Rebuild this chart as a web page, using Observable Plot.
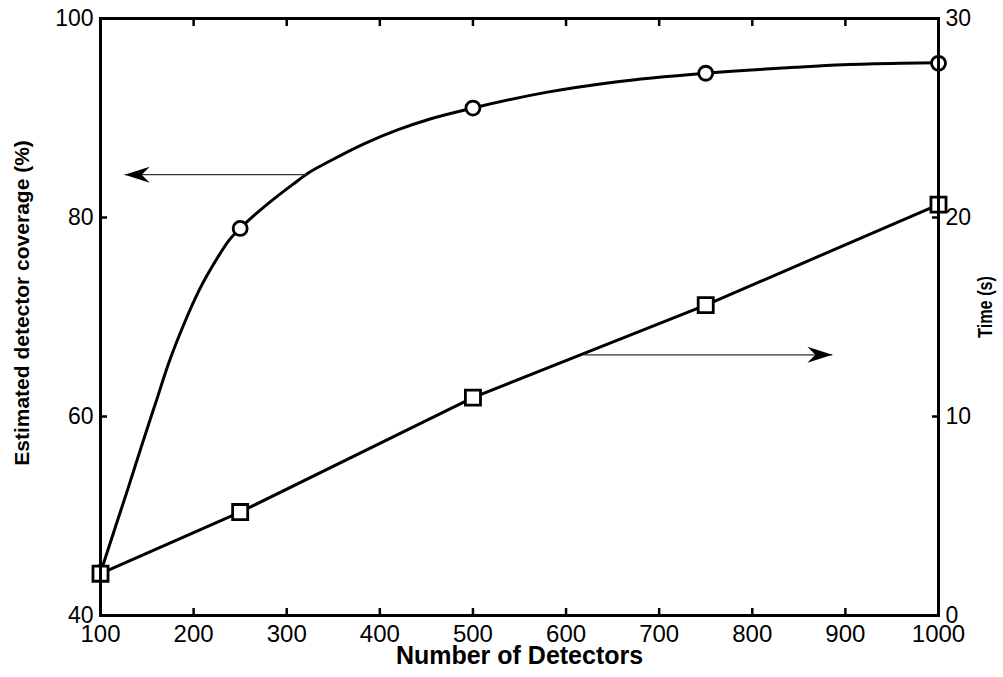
<!DOCTYPE html>
<html><head><meta charset="utf-8">
<script src="https://cdn.jsdelivr.net/npm/d3@7"></script>
<script src="https://cdn.jsdelivr.net/npm/@observablehq/plot@0.6"></script>
<style>html,body{margin:0;padding:0;background:#fff;} #chart{width:1003px;height:677px;}</style>
</head><body><div id="chart"></div>
<script>
// Marker positions (number of detectors)
const detectors = [100, 250, 500, 750, 1000];
// Estimated detector coverage (%) at the circle markers
const coverageMarkers = [44.3, 78.9, 91.0, 94.5, 95.5];
// Time (s) at the square markers
const timeMarkers = [2.1, 5.2, 10.95, 15.6, 20.65];
// Coverage curve
const curveDetectors = [100, 116, 130, 145, 159, 173, 191, 206, 224, 238, 250, 284, 309, 322, 347, 383, 419, 454, 500, 580, 651, 750, 847, 898, 959, 1000];
const curveCoverage  = [44.3, 48.9, 52.9, 57.3, 61.3, 65.3, 69.6, 72.7, 75.7, 77.7, 78.9, 81.7, 83.5, 84.4, 85.7, 87.4, 88.8, 89.9, 91.0, 92.6, 93.6, 94.5, 95.1, 95.35, 95.5, 95.55];
// Tick labels
const xTicks = [100, 200, 300, 400, 500, 600, 700, 800, 900, 1000];
const coverageTicks = [40, 60, 80, 100];
const timeTicks = [0, 10, 20, 30];
// Annotation arrows: [from detectors, to detectors, level]
const arrowCoverage = [322, 126, 84.3];   // points left, coverage axis (%)
const arrowTime = [619, 886, 13.1];       // points right, time axis (s)

const covDomain = [40, 100];
const timeDomain = [0, 30];
const timeToY = t => covDomain[0] + (t - timeDomain[0]) * (covDomain[1] - covDomain[0]) / (timeDomain[1] - timeDomain[0]);

const markers = detectors.map((n, i) => ({n, cov: coverageMarkers[i], time: timeMarkers[i]}));
const curve = curveDetectors.map((n, i) => ({n, cov: curveCoverage[i]}));
const arrows = [
  {x1: arrowCoverage[0], x2: arrowCoverage[1], y: arrowCoverage[2], dir: 180},
  {x1: arrowTime[0], x2: arrowTime[1], y: timeToY(arrowTime[2]), dir: 0}
];

const arrowHead = {
  draw(ctx) {
    ctx.moveTo(0, 0);
    ctx.lineTo(-25, -8);
    ctx.lineTo(-17, 0);
    ctx.lineTo(-25, 8);
    ctx.closePath();
  }
};

const font = "'Liberation Sans', Arial, Helvetica, sans-serif";

const chart = Plot.plot({
  width: 1003,
  height: 677,
  marginLeft: 100,
  marginRight: 65,
  marginTop: 18,
  marginBottom: 62,
  style: {fontFamily: font, fontSize: "24px", color: "black", background: "white", overflow: "visible"},
  x: {domain: [100, 1000]},
  y: {domain: covDomain},
  marks: [
    Plot.line(markers, {x: "n", y: d => timeToY(d.time), stroke: "black", strokeWidth: 3}),
    Plot.line(curve, {x: "n", y: "cov", curve: "monotone-x", stroke: "black", strokeWidth: 3}),
    Plot.link(arrows, {x1: "x1", x2: "x2", y1: "y", y2: "y", stroke: "#333", strokeWidth: 1.2}),
    Plot.dot(arrows, {x: "x2", y: "y", symbol: arrowHead, rotate: "dir", fill: "black", stroke: "none", r: 5}),
    Plot.dot(markers, {x: "n", y: "cov", r: 7, fill: "white", stroke: "black", strokeWidth: 2.8}),
    Plot.dot(markers, {x: "n", y: d => timeToY(d.time), symbol: "square", r: 8.5, fill: "white", stroke: "black", strokeWidth: 2.8}),
    Plot.frame({stroke: "black", strokeWidth: 3}),
    // x axis labels and inward ticks
    Plot.axisX({ticks: xTicks, tickFormat: d => String(d), tickSize: 0, tickPadding: 9, label: null, fontSize: 24}),
    Plot.axisX({ticks: xTicks, tickSize: -7, strokeWidth: 2.5, fill: "none", tickFormat: () => "", label: null}),
    Plot.axisX({anchor: "top", ticks: xTicks, tickSize: -7, strokeWidth: 2.5, fill: "none", tickFormat: () => "", label: null}),
    // left axis
    Plot.axisY({ticks: coverageTicks, tickFormat: d => String(d), tickSize: 0, tickPadding: 7, label: null, fontSize: 23}),
    Plot.axisY({ticks: coverageTicks, tickSize: -7, strokeWidth: 2.5, fill: "none", tickFormat: () => "", label: null}),
    // right axis (time)
    Plot.axisY({anchor: "right", ticks: timeTicks.map(timeToY), tickFormat: (d, i) => String(timeTicks[i]), tickSize: 0, tickPadding: 7, label: null, fontSize: 23}),
    Plot.axisY({anchor: "right", ticks: timeTicks.map(timeToY), tickSize: -7, strokeWidth: 2.5, fill: "none", tickFormat: () => "", label: null}),
    // axis titles
    Plot.text(["Number of Detectors"], {text: d => d, frameAnchor: "bottom", textAnchor: "middle", dy: 48, fontSize: 25, fontWeight: "bold"}),
    Plot.text(["Estimated detector coverage (%)"], {text: d => d, frameAnchor: "left", textAnchor: "middle", rotate: -90, dx: -78, dy: -14, fontSize: 21, fontWeight: "bold"}),
    Plot.text(["Time (s)"], {text: d => d, frameAnchor: "right", textAnchor: "middle", rotate: -90, dx: 47, dy: -10, fontSize: 21, fontWeight: "bold"})
  ]
});
document.getElementById("chart").appendChild(chart);
// compress the right-axis title to the length it has in the reference
d3.select(chart).selectAll("text").filter(function () { return this.textContent === "Time (s)"; })
  .attr("textLength", 62).attr("lengthAdjust", "spacingAndGlyphs");
</script>
</body></html>
